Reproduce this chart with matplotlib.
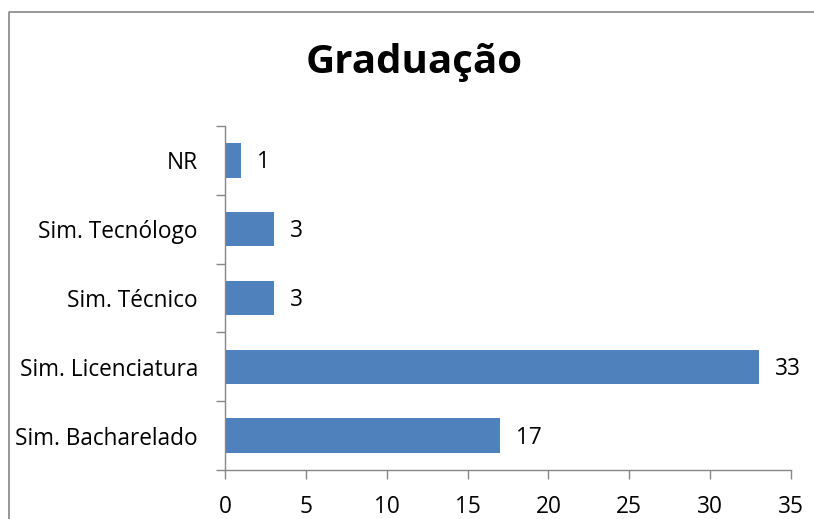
import matplotlib
matplotlib.use("Agg")
import matplotlib.pyplot as plt
from matplotlib.lines import Line2D

categories = ["Sim. Bacharelado", "Sim. Licenciatura", "Sim. Técnico", "Sim. Tecnólogo", "NR"]
values = [17, 33, 3, 3, 1]
xticks = [0, 5, 10, 15, 20, 25, 30, 35]
title = "Graduação"

plt.rcParams['font.family'] = ['Open Sans', 'DejaVu Sans']

W, H = 814, 519
fig = plt.figure(figsize=(W / 100, H / 100), dpi=100)
ax = fig.add_axes([225 / W, (H - 470) / H, (791 - 225) / W, (470 - 126) / H])

axis_col = "#868686"
bar_col = "#4F81BD"
fs = 16.3

ypos = list(range(len(categories)))
bars = ax.barh(ypos, values, height=0.5, color=bar_col, zorder=2)
ax.set_ylim(-0.5, len(categories) - 0.5)
ax.set_xlim(0, 35)
ax.set_xticks(xticks)
ax.set_xticklabels([str(t) for t in xticks])
ax.set_yticks(ypos)
ax.set_yticklabels(categories)
ax.set_yticks([i - 0.5 for i in range(len(categories) + 1)], minor=True)

for sp in ["top", "right"]:
    ax.spines[sp].set_visible(False)
for sp in ["left", "bottom"]:
    ax.spines[sp].set_color(axis_col)
    ax.spines[sp].set_linewidth(1.0)

ax.tick_params(axis="y", which="major", length=0, pad=19.5, labelsize=fs)
ax.tick_params(axis="y", which="minor", length=6.5, width=1.0, color=axis_col)
ax.tick_params(axis="x", which="major", length=6.5, width=1.0, color=axis_col, pad=11.5, labelsize=fs)

for b, v in zip(bars, values):
    ax.annotate(str(v), xy=(b.get_width(), b.get_y() + b.get_height() / 2),
                xytext=(16, -2), textcoords="offset pixels", va="center", ha="left",
                fontsize=fs)

fig.text((307 + 521) / 2 / W, 1 - 63 / H, title, ha="center", va="center",
         fontsize=29, fontweight="bold")

bx, by = 8.5 / W, 1 - 11.5 / H
fig.add_artist(Line2D([bx, bx, (W - 0.5) / W], [0.5 / H, by, by], transform=fig.transFigure,
                      color=axis_col, linewidth=1.2, solid_capstyle="butt"))

fig.savefig("out.png", dpi=100)
